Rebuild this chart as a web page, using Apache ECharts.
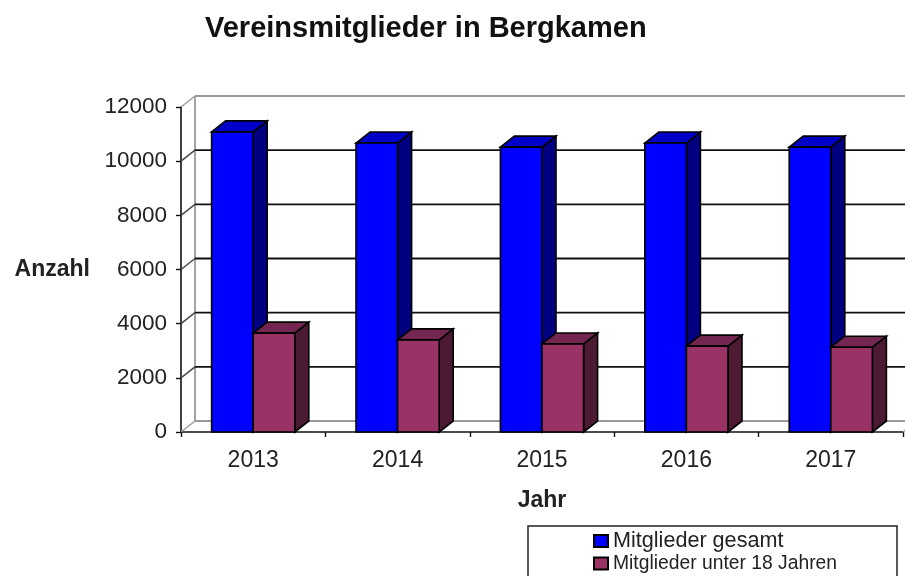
<!DOCTYPE html>
<html><head><meta charset="utf-8">
<style>html,body{margin:0;padding:0;background:#fff;overflow:hidden}#c{width:905px;height:576px}</style>
<script src="https://cdn.jsdelivr.net/npm/echarts@6/dist/echarts.min.js"></script>
</head><body><div id="c"></div>
<script>
const categories = ['2013','2014','2015','2016','2017'];
const totalMembers = [11080,10670,10520,10670,10520];
const under18 = [3650,3400,3250,3170,3130];
const yTicks = [0,2000,4000,6000,8000,10000,12000];
const DX = 14, DY = -11;
const FONT = '"Liberation Sans", Arial, sans-serif';

function bar(front, top, side, offset) {
  return function (params, api) {
    const p = api.coord([api.value(0), api.value(1)]);
    const base = api.coord([api.value(0), 0]);
    const w = api.size([1, 0])[0] * 0.288;
    const x0 = p[0] + offset * w, x1 = x0 + w, y0 = p[1], y1 = base[1];
    const st = (c) => ({ fill: c, stroke: '#000', lineWidth: 1.6 });
    return { type: 'group', children: [
      { type: 'polygon', shape: { points: [[x1,y0],[x1+DX,y0+DY],[x1+DX,y1+DY],[x1,y1]] }, style: st(side) },
      { type: 'polygon', shape: { points: [[x0,y0],[x0+DX,y0+DY],[x1+DX,y0+DY],[x1,y0]] }, style: st(top) },
      { type: 'rect', shape: { x: x0, y: y0, width: w, height: y1 - y0 }, style: st(front) }
    ]};
  };
}
function wall(params, api) {
  const v = api.value(1), cs = params.coordSys;
  const y = api.coord([0, v])[1], x = cs.x, xr = cs.x + cs.width;
  const edge = v === 0 || v === yTicks[yTicks.length - 1];
  const col = edge ? '#9a9a9a' : '#111';
  const kids = [
    { type: 'line', shape: { x1: x, y1: y, x2: x + DX, y2: y + DY }, style: { stroke: edge ? '#9a9a9a' : '#444', lineWidth: 1.4 } },
    { type: 'line', shape: { x1: x + DX, y1: y + DY, x2: xr + DX, y2: y + DY }, style: { stroke: col, lineWidth: 1.8 } }
  ];
  if (v === 0) {
    kids.push({ type: 'line', shape: { x1: x + DX, y1: y + DY, x2: x + DX, y2: cs.y + DY }, style: { stroke: '#9a9a9a', lineWidth: 1.8 } });
    kids.push({ type: 'line', shape: { x1: xr, y1: y, x2: xr + DX, y2: y + DY }, style: { stroke: '#9a9a9a', lineWidth: 1.4 } });
  }
  return { type: 'group', children: kids };
}
const chart = echarts.init(document.getElementById('c'), null, { renderer: 'canvas' });
chart.setOption({
  animation: false,
  backgroundColor: '#fff',
  textStyle: { fontFamily: FONT, color: '#111' },
  title: { text: 'Vereinsmitglieder in Bergkamen', left: 205, top: 14, padding: 0,
    textStyle: { fontFamily: FONT, fontSize: 29, fontWeight: 'bold', color: '#111' } },
  grid: { left: 181, top: 107, width: 722, height: 325, outerBoundsMode: 'none', containLabel: false },
  xAxis: { type: 'category', data: categories, name: 'Jahr', nameLocation: 'middle', nameGap: 57,
    nameTextStyle: { fontFamily: FONT, fontSize: 23, fontWeight: 'bold', color: '#222' },
    axisLine: { show: true, lineStyle: { color: '#111', width: 1.6 } },
    axisTick: { show: true, alignWithLabel: false, length: 5, lineStyle: { color: '#111', width: 1.4 } },
    axisLabel: { fontFamily: FONT, fontSize: 23, color: '#222', margin: 17 } },
  yAxis: { type: 'value', min: 0, max: 12000, interval: 2000, name: 'Anzahl', nameLocation: 'middle', nameRotate: 0, nameGap: 91,
    nameTextStyle: { fontFamily: FONT, fontSize: 23, fontWeight: 'bold', color: '#222' },
    axisLine: { show: true, lineStyle: { color: '#111', width: 1.6 } },
    axisTick: { show: true, length: 5, lineStyle: { color: '#111', width: 1.4 } },
    splitLine: { show: false },
    axisLabel: { fontFamily: FONT, fontSize: 22.5, color: '#222', margin: 14, formatter: (v) => String(v) } },
  legend: { left: 528, top: 526, height: 90, orient: 'vertical', align: 'left', itemWidth: 14, itemHeight: 12, itemGap: 2,
    padding: [4, 60, 30, 65], borderColor: '#222', borderWidth: 1.5, icon: 'rect', selectedMode: false,
    data: [
      { name: 'Mitglieder gesamt', textStyle: { fontFamily: FONT, fontSize: 21.6, color: '#222' } },
      { name: 'Mitglieder unter 18 Jahren', textStyle: { fontFamily: FONT, fontSize: 19.3, color: '#222' } }
    ] },
  series: [
    { type: 'custom', name: 'wall', silent: true, z: 1, renderItem: wall, data: yTicks.map(v => [0, v]), encode: { x: 0, y: 1 } },
    { type: 'custom', name: 'Mitglieder gesamt', z: 2, renderItem: bar('#0000ff', '#0000c8', '#000080', -1),
      itemStyle: { color: '#0000ff', borderColor: '#000', borderWidth: 1.5 },
      data: totalMembers.map((v, i) => [i, v]), encode: { x: 0, y: 1 } },
    { type: 'custom', name: 'Mitglieder unter 18 Jahren', z: 3, renderItem: bar('#993366', '#732650', '#4d1a33', 0),
      itemStyle: { color: '#993366', borderColor: '#000', borderWidth: 1.5 },
      data: under18.map((v, i) => [i, v]), encode: { x: 0, y: 1 } }
  ]
});
</script></body></html>
